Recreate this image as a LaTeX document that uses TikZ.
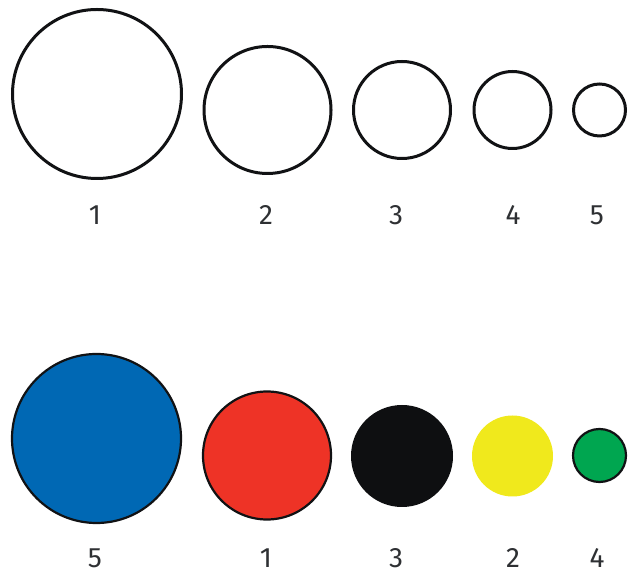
\documentclass[tikz,border=0pt]{standalone}
\usepackage{fontspec}
\setmainfont{Fira Sans}
\usetikzlibrary{positioning}
\definecolor{dotink}{HTML}{111214}
\definecolor{dotlabel}{HTML}{2E3033}
\definecolor{dotblue}{HTML}{0068B4}
\definecolor{dotred}{HTML}{EE3326}
\definecolor{dotblack}{HTML}{0E0F11}
\definecolor{dotyellow}{HTML}{F0E91C}
\definecolor{dotgreen}{HTML}{00A650}
\tikzset{
  ringdot/.style={circle, draw=dotink, fill=white, line width=3pt, inner sep=0pt},
  colordot/.style={circle, draw=dotink, line width=2.2pt, inner sep=0pt},
  plaindot/.style={circle, draw=none, inner sep=0pt},
  dotnum/.style={font=\fontsize{28}{30}\selectfont, text=dotlabel, inner sep=0pt}
}
\begin{document}
\begin{tikzpicture}[x=1pt,y=1pt]
  \useasboundingbox (0,0) rectangle (628,572);
  % top row: empty rings, biggest first
  \foreach \x/\y/\d/\lx/\lab in {97/478/169/95/1,267.5/462/127/266/2,402/462/97/396/3,512.5/462/77/513/4,599.5/462/52/597/5} {
    \node[ringdot, minimum size=\d] (ring\lab) at (\x,\y) {};
    \node[dotnum] (ringnum\lab) at (\lx,357) {\lab};
  }

  % bottom row: filled dots with their numbers
  \foreach \x/\y/\d/\sty/\col/\lx/\lab/\n in {96.5/133.5/169/colordot/dotblue/95/5/a,267/116.5/128/colordot/dotred/266/1/b,402/116/102/plaindot/dotblack/396/3/c,512.5/116/81/plaindot/dotyellow/513/2/d,599.5/116.5/53/colordot/dotgreen/597/4/e} {
    \node[\sty, fill=\col, minimum size=\d] (dot\n) at (\x,\y) {};
    \node[dotnum] (dotnum\n) at (\lx,14) {\lab};
  }
\end{tikzpicture}
\end{document}
